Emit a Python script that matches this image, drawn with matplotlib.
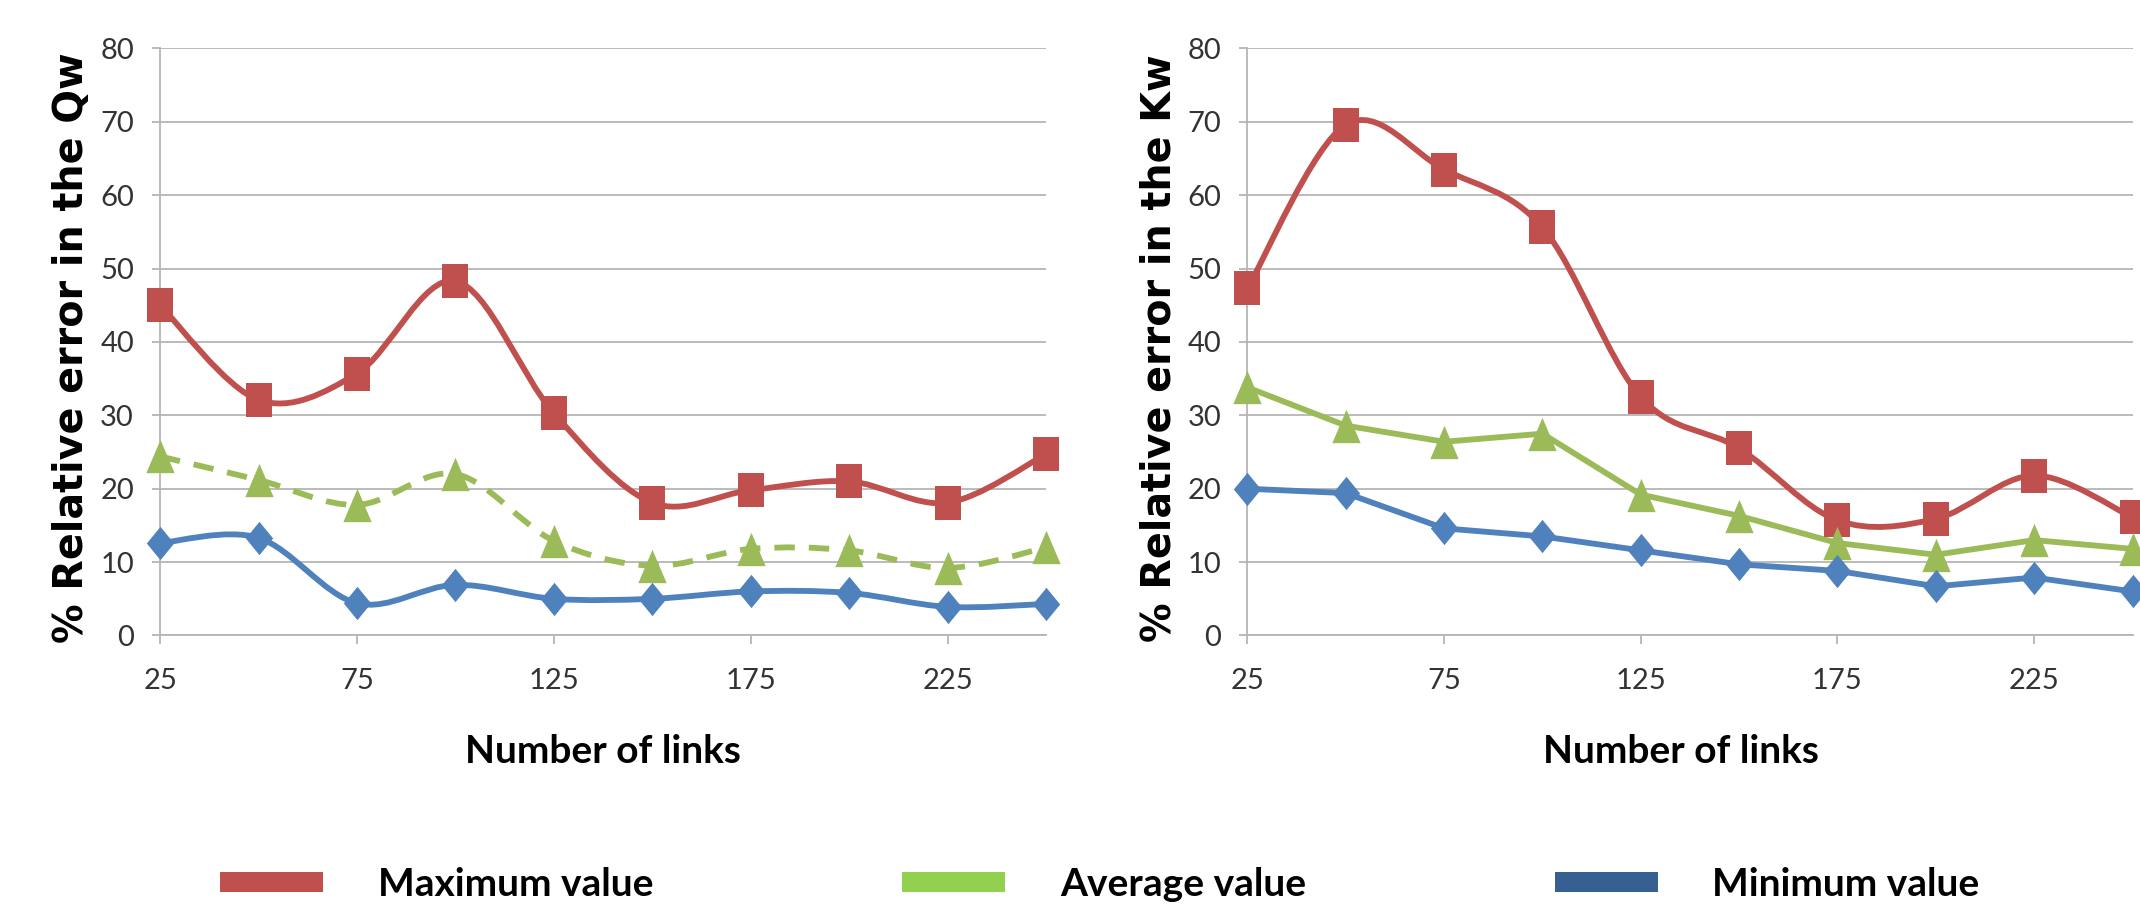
import numpy as np
import matplotlib
matplotlib.use("Agg")
import matplotlib.pyplot as plt
from matplotlib.path import Path
from matplotlib.patches import PathPatch, Patch

# data
links = [25, 50, 75, 100, 125, 150, 175, 200, 225, 250]
tick_links = [25, 75, 125, 175, 225]

qw_max = [45.0, 32.1, 35.7, 48.3, 30.3, 18.1, 19.8, 21.0, 18.1, 24.7]
qw_avg = [24.4, 21.2, 17.8, 22.0, 12.9, 9.5, 11.8, 11.6, 9.2, 12.0]
qw_min = [12.6, 13.3, 4.4, 6.9, 5.0, 5.0, 6.0, 5.8, 3.9, 4.3]

kw_max = [47.3, 69.6, 63.5, 55.6, 32.5, 25.5, 15.7, 15.9, 21.8, 16.1]
kw_avg = [33.8, 28.6, 26.4, 27.5, 19.2, 16.3, 12.6, 11.0, 13.0, 11.8]
kw_min = [20.0, 19.4, 14.6, 13.5, 11.6, 9.7, 8.8, 6.7, 7.9, 6.0]

legend_names = ["Maximum value", "Average value", "Minimum value"]

RED, GREEN, BLUE = "#C0504D", "#9BBB59", "#4F81BD"
LEG_COLORS = ["#C0504D", "#92D050", "#376092"]
GRID = "#B5B5B5"

# markers a bit taller than wide, like the reference
SQUARE = [(-0.8, -1), (0.8, -1), (0.8, 1), (-0.8, 1), (-0.8, -1)]
TRIANGLE = [(0, 1), (0.85, -1), (-0.85, -1), (0, 1)]
DIAMOND = [(0, 1), (0.82, 0), (0, -1), (-0.82, 0), (0, 1)]


def smooth_path(x, y):
    # excel style smoothed line (catmull-rom as cubic bezier)
    pts = np.column_stack([x, y]).astype(float)
    n = len(pts)
    verts = [pts[0]]
    codes = [Path.MOVETO]
    for i in range(n - 1):
        p0 = pts[i - 1] if i > 0 else pts[i]
        p1, p2 = pts[i], pts[i + 1]
        p3 = pts[i + 2] if i + 2 < n else pts[i + 1]
        verts += [p1 + (p2 - p0) / 6, p2 - (p3 - p1) / 6, p2]
        codes += [Path.CURVE4] * 3
    return Path(verts, codes)


def draw_series(ax, y, color, marker, smooth=True, ls="-"):
    if smooth:
        pp = PathPatch(smooth_path(links, y), fill=False, edgecolor=color, lw=4.2,
                       linestyle=ls, capstyle="butt", joinstyle="round", clip_on=False, zorder=3)
        ax.add_patch(pp)
    else:
        ax.plot(links, y, color=color, lw=4.2, ls=ls, solid_joinstyle="round", clip_on=False, zorder=3)
    ax.plot(links, y, ls="none", marker=marker, ms=24, color=color, mew=0, clip_on=False, zorder=4)


def style_axes(ax, ylabel, xlab_x):
    ax.set_xlim(25, 250)
    ax.set_ylim(0, 80)
    ax.set_yticks(range(0, 81, 10))
    ax.set_xticks(tick_links)
    ax.grid(axis="y", color=GRID, lw=1.3, zorder=0)
    ax.set_axisbelow(True)
    for s in ["top", "right"]:
        ax.spines[s].set_visible(False)
    for s in ["left", "bottom"]:
        ax.spines[s].set_color(GRID)
        ax.spines[s].set_linewidth(1.3)
    ax.tick_params(axis="y", length=5.8, width=1.3, color=GRID, pad=13, labelsize=21, labelcolor="#333333")
    ax.tick_params(axis="x", length=6.5, width=1.3, color=GRID, pad=17, labelsize=21, labelcolor="#333333")
    for lab in ax.get_xticklabels() + ax.get_yticklabels():
        lab.set_family("Lato")
    ax.set_ylabel(ylabel, fontsize=28.5, fontweight="bold", family="DejaVu Sans")
    ax.yaxis.set_label_coords(-0.077, 0.49)
    ax.set_xlabel("Number of links", fontsize=28, fontweight="bold", family="Lato")
    ax.xaxis.set_label_coords(xlab_x, -0.198)
    ax.xaxis.label.set_va("center")


fig = plt.figure(figsize=(21.4, 9.05), dpi=100)
ax1 = fig.add_axes([0.0748, 0.2978, 0.414, 0.6487])
ax2 = fig.add_axes([0.5829, 0.2978, 0.4136, 0.6487])

draw_series(ax1, qw_max, RED, SQUARE)
draw_series(ax1, qw_avg, GREEN, TRIANGLE, ls=(0, (3.5, 2.4)))
draw_series(ax1, qw_min, BLUE, DIAMOND)
style_axes(ax1, "% Relative error in the Qw", 0.5)

draw_series(ax2, kw_max, RED, SQUARE)
draw_series(ax2, kw_avg, GREEN, TRIANGLE, smooth=False)
draw_series(ax2, kw_min, BLUE, DIAMOND, smooth=False)
style_axes(ax2, "% Relative error in the Kw", 0.49)

handles = [Patch(facecolor=c, edgecolor="none") for c in LEG_COLORS]
fig.legend(handles, legend_names, loc="center", bbox_to_anchor=(0.514, 0.023), ncol=3,
           frameon=False, prop={"family": "Lato", "weight": "bold", "size": 28},
           handlelength=2.65, handleheight=0.41, handletextpad=1.4, columnspacing=6.4,
           borderpad=0, borderaxespad=0)

fig.savefig("out.png", dpi=100)
